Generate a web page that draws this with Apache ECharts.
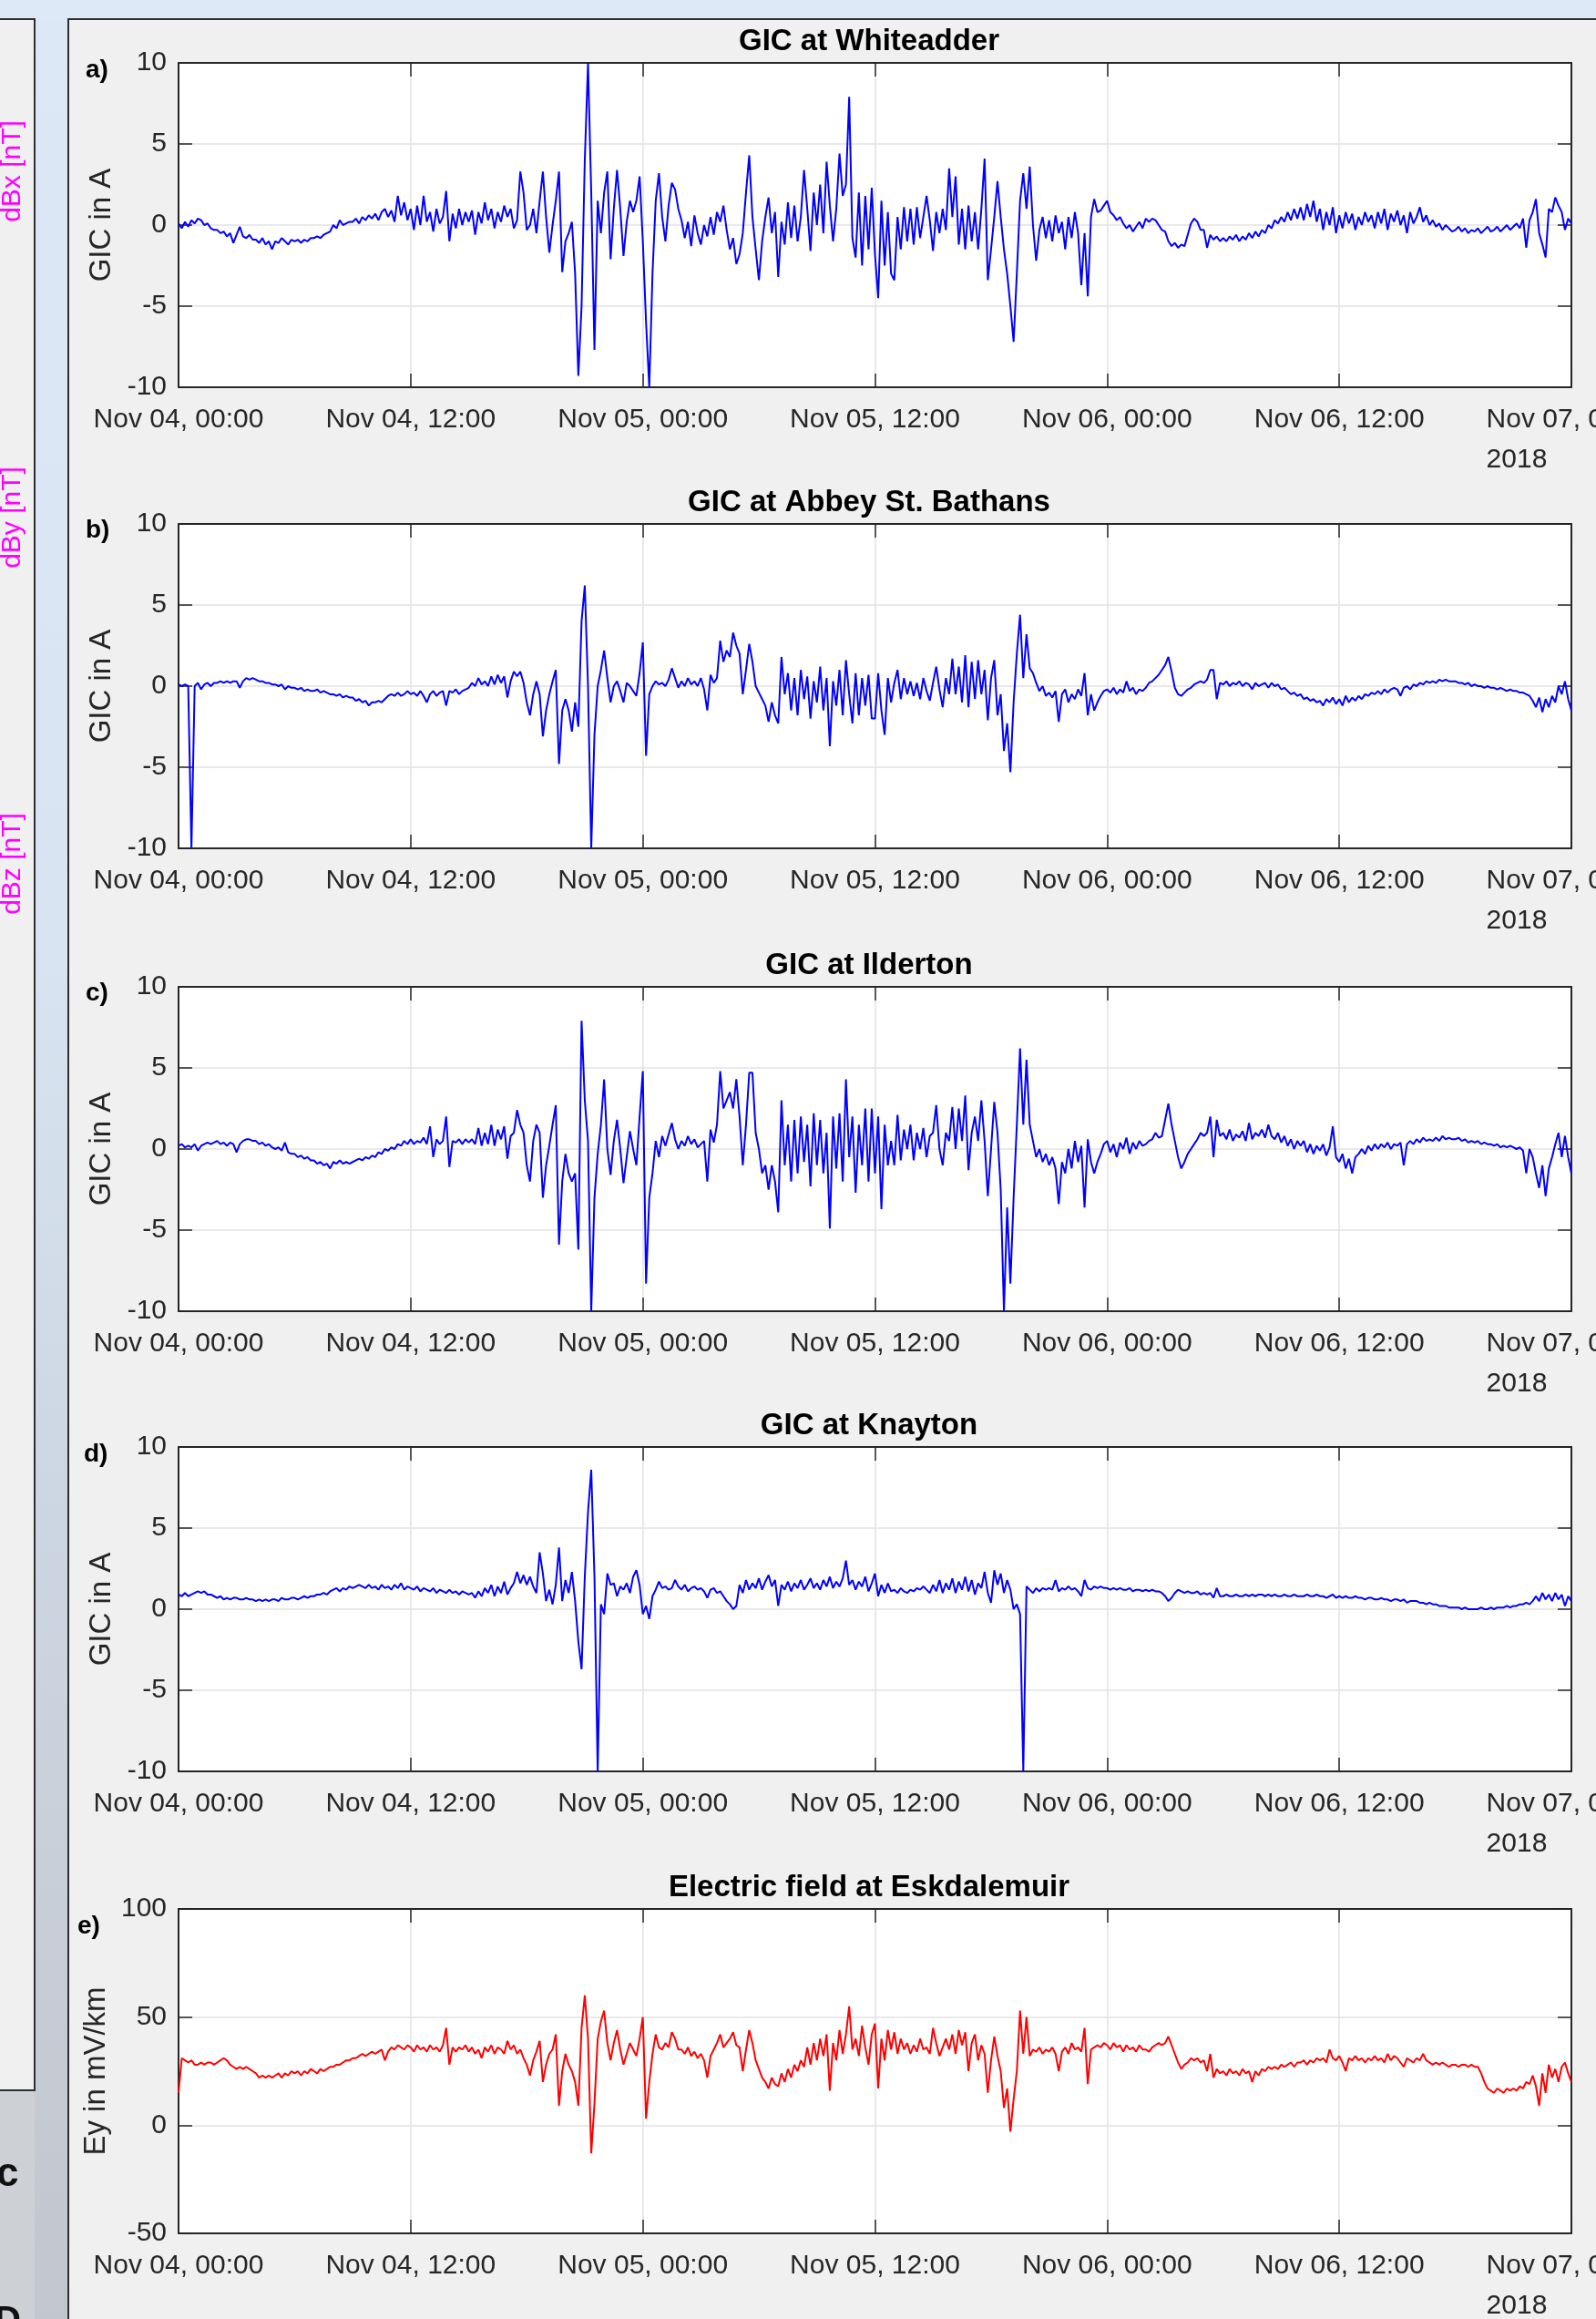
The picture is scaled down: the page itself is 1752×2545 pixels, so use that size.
<!DOCTYPE html>
<html><head><meta charset="utf-8">
<script src="https://cdn.jsdelivr.net/npm/echarts@6/dist/echarts.min.js"></script>
<style>html,body{margin:0;padding:0;background:#dde9f6;overflow:hidden}#c{width:1752px;height:2545px}</style>
</head><body><div id="c"></div>
<script>
// ---------- data ----------
const tickLabels = ['Nov 04, 00:00','Nov 04, 12:00','Nov 05, 00:00','Nov 05, 12:00','Nov 06, 00:00','Nov 06, 12:00','Nov 07, 00:00'];
const yearLabel = '2018';
const samplesPerHour = 6; // 10-minute samples, 0..72 h
const panelTitles = ['GIC at Whiteadder','GIC at Abbey St. Bathans','GIC at Ilderton','GIC at Knayton','Electric field at Eskdalemuir'];
const panelLetters = ['a)','b)','c)','d)','e)'];
const yNames = ['GIC in A','GIC in A','GIC in A','GIC in A','Ey in mV/km'];
const gicRanges = [-10, 10, 5];
const eRanges = [-50, 100, 50];

const gicWhiteadder = [
0.1,-0.2,0.2,-0.1,0.3,0.1, 0.4,0.3,0.0,0.1,-0.2,-0.3, -0.3,-0.5,-0.4,-0.7,-0.5,-1.1, -0.6,-0.1,-0.7,-0.8,-0.6,-0.9,
-0.9,-1.1,-0.8,-1.2,-1.0,-1.5, -1.0,-1.1,-0.8,-1.0,-1.2,-0.9, -1.0,-0.9,-1.1,-0.9,-1.0,-0.8, -0.8,-0.7,-0.8,-0.6,-0.5,-0.4,
0.0,-0.2,0.3,0.0,0.1,0.2, 0.2,0.4,0.1,0.5,0.3,0.6, 0.4,0.7,0.3,0.8,1.0,0.5, 0.9,0.2,1.8,0.6,1.4,0.3,
1.0,-0.3,1.2,0.0,1.8,0.2, 0.8,-0.4,1.0,0.1,0.5,2.1, -1.0,0.7,-0.2,1.0,0.0,0.8, 0.2,0.9,-0.6,0.8,0.1,1.4,
0.3,1.0,-0.2,0.8,0.2,1.2, 0.5,1.0,-0.2,0.3,3.3,2.0, -0.3,0.0,1.0,-0.5,1.5,3.3, 0.5,-1.7,0.0,1.5,3.3,-2.9,
-1.0,-0.5,0.2,-3.0,-9.3,-5.0, 4.0,10.0,2.0,-7.7,1.5,-0.5, 2.0,3.3,-2.1,1.0,3.4,1.0, -1.9,0.2,1.5,0.8,1.5,3.0,
-1.0,-6.0,-10.0,-3.0,1.5,3.2, 0.5,-1.0,1.2,2.6,2.2,1.0, 0.3,-0.8,0.2,-1.3,0.6,-0.5, -1.2,0.0,-0.7,0.5,-0.6,0.8,
0.2,1.2,-0.3,-1.5,-0.8,-2.4, -1.8,-0.5,2.0,4.3,0.5,-1.5, -3.4,-1.0,0.5,1.7,-0.5,0.8, -3.2,0.2,-1.2,1.4,-0.8,1.2,
-1.0,0.5,3.4,1.0,-1.6,2.0, 0.0,2.5,-0.5,3.9,1.2,-1.0, 1.0,4.4,1.8,2.5,7.9,-0.8, -2.0,2.0,-2.5,1.8,-1.5,2.3,
-1.8,-4.5,1.5,-2.5,0.8,-3.0, -3.4,0.5,-1.5,1.1,-1.0,1.0, -1.2,1.1,-0.8,0.5,1.8,0.3, -1.6,0.8,-0.5,1.0,-0.3,3.5,
0.5,3.0,-1.2,1.0,-1.5,1.2, -1.0,0.8,-1.5,1.0,4.1,-3.4, -1.5,0.5,2.7,0.5,-1.5,-3.0, -5.0,-7.2,-3.0,1.5,3.2,1.0,
3.6,0.0,-2.2,-0.3,0.5,-0.8, 0.3,-1.0,0.6,-0.5,0.2,-1.5, 0.5,-0.8,0.8,-0.5,-3.7,-0.5, -4.4,0.5,1.6,0.8,0.9,1.2,
1.5,0.8,0.6,0.3,0.5,0.1, -0.2,0.0,-0.4,-0.1,0.2,-0.2, 0.4,0.2,0.4,0.3,0.0,-0.3, -0.4,-1.0,-1.3,-1.1,-1.4,-1.2,
-1.3,-0.6,0.1,0.4,0.2,-0.3, -0.3,-1.4,-0.6,-0.9,-0.7,-1.0, -0.8,-1.0,-0.7,-0.9,-0.6,-1.0, -0.7,-0.9,-0.5,-0.8,-0.4,-0.7,
-0.3,-0.5,0.0,-0.2,0.3,0.1, 0.5,0.2,0.8,0.3,1.0,0.4, 1.1,0.3,1.3,0.5,1.5,0.2, 1.0,-0.3,0.8,0.0,1.1,-0.5,
0.6,-0.2,0.8,0.1,0.7,-0.3, 0.5,0.0,0.8,0.2,0.6,-0.2, 0.8,0.1,1.0,-0.3,0.7,0.2, 0.9,0.0,0.6,-0.5,0.8,0.1,
0.5,1.1,0.2,0.6,0.0,0.3, -0.1,0.1,-0.3,0.0,-0.2,-0.4, -0.3,-0.1,-0.4,-0.2,-0.5,-0.3, -0.4,-0.2,-0.5,-0.3,-0.1,-0.4,
-0.3,-0.1,-0.4,-0.2,0.0,-0.3, -0.1,0.1,-0.2,0.4,-1.4,0.3, 0.8,1.6,-0.5,-1.2,-2.0,1.0, 0.8,1.7,1.2,0.8,-0.3,0.4,
0.1];

const gicAbbey = [
0.1,0.0,0.1,0.0,-10.0,0.0, 0.2,-0.2,0.1,0.2,0.0,0.2, 0.2,0.3,0.2,0.3,0.2,0.3, 0.3,-0.1,0.3,0.5,0.4,0.5,
0.4,0.3,0.3,0.2,0.2,0.1, 0.1,0.0,0.1,-0.2,0.0,-0.1, -0.1,-0.2,-0.1,-0.3,-0.2,-0.3, -0.3,-0.2,-0.4,-0.3,-0.4,-0.5,
-0.5,-0.6,-0.5,-0.7,-0.6,-0.7, -0.7,-0.9,-0.8,-1.0,-0.9,-1.2, -1.0,-1.0,-0.9,-1.0,-0.8,-0.6, -0.5,-0.6,-0.4,-0.6,-0.5,-0.3,
-0.5,-0.4,-0.6,-0.3,-0.6,-1.0, -0.5,-0.3,-0.6,-0.4,-0.3,-1.2, -0.3,-0.4,-0.2,-0.5,-0.3,-0.2, -0.1,0.2,0.0,0.5,0.1,0.3,
0.0,0.6,0.1,0.7,0.2,0.6, -0.7,0.3,0.9,0.6,0.9,0.2, -1.0,-1.8,-0.5,0.3,-0.5,-3.1, -1.5,-0.5,0.3,1.0,-4.8,-1.5,
-0.8,-1.5,-2.8,-1.0,-2.5,4.0, 6.2,0.0,-10.0,-3.0,0.0,1.0, 2.2,0.5,-1.0,0.0,0.3,-0.3, -1.0,0.2,0.0,-0.3,-0.6,0.8,
2.7,-4.3,-0.5,0.0,0.3,0.1, 0.2,0.0,0.4,1.1,0.5,-0.1, 0.3,0.0,0.5,0.1,0.3,0.0, 0.5,-0.2,-1.5,0.7,0.2,0.5,
2.8,1.5,2.2,1.8,3.3,2.5, 2.0,-0.5,1.0,2.6,1.5,0.0, -0.4,-0.8,-1.2,-2.2,-1.0,-1.8, -2.3,1.8,-0.5,0.8,-1.5,0.5,
-1.8,1.0,-0.8,0.6,-2.0,0.3, -1.0,1.2,-1.5,0.5,-3.7,0.3, -1.2,1.0,-1.8,1.6,-0.5,-2.3, 0.8,-1.8,0.5,-1.2,0.7,-2.0,
-2.0,0.8,-1.5,-3.0,0.5,-1.0, 0.2,1.0,-0.8,0.5,-0.5,0.3, -0.6,0.2,-0.8,0.5,-0.3,-0.9, 0.2,1.2,-0.2,-1.3,0.5,-0.5,
1.7,-0.5,1.2,-1.0,1.9,-1.3, 1.5,-0.8,1.6,-0.5,1.0,-2.1, 0.5,1.6,-1.8,-0.5,-4.0,-2.3, -5.3,-1.0,2.0,4.4,0.5,3.2,
1.1,0.8,0.2,-0.3,0.0,-0.6, -0.4,-0.7,-0.3,-2.2,-0.5,-0.2, -1.0,-0.5,-0.8,-0.2,-0.6,0.8, -1.8,-0.5,-1.5,-1.0,-0.6,-0.3,
-0.2,-0.4,-0.1,-0.5,-0.2,-0.4, 0.3,-0.3,-0.1,-0.5,-0.2,-0.3, -0.1,0.2,0.3,0.5,0.7,1.0, 1.3,1.8,0.9,-0.1,-0.5,-0.6,
-0.4,-0.2,-0.1,0.1,0.2,0.3, 0.2,0.4,1.0,1.0,-0.8,0.2, 0.1,0.3,0.0,0.2,0.1,0.3, 0.0,0.2,0.1,-0.2,0.2,0.0,
0.1,0.2,-0.1,0.2,0.0,0.1, -0.2,-0.1,-0.3,-0.5,-0.4,-0.6, -0.5,-0.8,-0.7,-0.9,-0.8,-1.0, -0.9,-1.2,-0.8,-1.0,-0.7,-1.1,
-0.8,-1.2,-0.6,-1.0,-0.7,-0.9, -0.6,-0.8,-0.5,-0.6,-0.4,-0.5, -0.3,-0.5,-0.2,-0.4,-0.2,-0.1, -0.2,-0.6,-0.1,0.0,-0.2,0.1,
0.0,0.2,0.1,0.3,0.2,0.3, 0.2,0.4,0.3,0.4,0.3,0.3, 0.3,0.2,0.2,0.1,0.2,0.0, 0.1,0.0,0.0,-0.1,0.0,-0.1,
-0.1,-0.2,-0.1,-0.2,-0.3,-0.2, -0.3,-0.3,-0.4,-0.4,-0.5,-0.6, -0.9,-1.3,-0.7,-1.6,-0.8,-1.3, -0.6,-1.0,0.0,-0.5,0.3,-0.8,
-1.5];

const gicIlderton = [
0.2,0.3,0.1,0.2,0.1,0.3, -0.1,0.2,0.3,0.4,0.3,0.4, 0.5,0.3,0.4,0.2,0.4,0.3, -0.2,0.3,0.5,0.6,0.6,0.5,
0.5,0.3,0.4,0.2,0.3,0.1, 0.0,0.1,-0.1,0.4,-0.2,-0.3, -0.3,-0.5,-0.4,-0.6,-0.5,-0.7, -0.7,-0.9,-0.8,-1.0,-0.9,-1.2,
-0.8,-0.9,-0.7,-0.9,-0.8,-0.9, -0.8,-0.7,-0.6,-0.7,-0.5,-0.6, -0.4,-0.5,-0.2,-0.3,0.0,-0.1, 0.1,0.0,0.3,0.2,0.5,0.3,
0.6,0.3,0.5,0.4,0.7,0.3, 1.4,-0.5,0.6,0.3,0.5,2.0, -1.1,0.5,0.4,0.6,0.3,0.6, 0.4,0.6,0.3,1.3,0.2,1.0,
0.3,1.5,0.2,1.2,0.6,1.4, -0.6,0.8,1.0,2.4,1.5,1.0, -1.0,-2.0,0.5,1.5,1.0,-3.0, -1.0,0.2,1.5,2.7,-5.9,-2.0,
-0.3,-1.5,-2.0,-1.5,-6.2,7.9, 3.0,0.5,-10.0,-3.0,-0.3,1.5, 4.3,0.0,-1.6,0.5,1.8,0.0, -2.1,-0.5,1.1,0.0,-1.0,2.0,
4.8,-8.3,-3.0,-1.5,0.5,-0.5, 0.8,0.2,0.9,1.6,0.6,0.0, 0.5,0.2,0.8,0.3,0.6,0.1, 0.3,0.5,-2.0,1.2,0.4,1.5,
4.8,2.5,3.0,3.5,2.5,4.3, 2.0,-1.0,1.5,4.7,4.7,1.0, 0.0,-1.5,-1.0,-2.5,-1.0,-2.0, -3.9,3.0,-1.0,1.5,-2.0,1.8,
-1.5,2.0,-0.8,1.5,-2.3,2.2, -1.0,1.8,-1.5,1.0,-4.9,2.0, -1.2,2.2,-2.0,4.3,-0.5,2.0, -2.7,1.5,-1.0,2.5,-2.0,2.5,
-1.5,2.0,-3.7,1.5,-1.0,0.5, -1.0,2.1,-0.7,1.2,0.0,1.5, -0.7,1.0,0.0,1.3,-0.5,0.8, 1.0,2.7,0.0,-1.0,1.0,0.5,
2.6,0.0,2.5,0.5,3.3,-1.3, 1.0,2.0,0.5,3.0,0.5,-2.9, 0.0,2.9,1.0,-2.5,-10.0,-3.6, -8.3,-3.0,1.5,6.2,1.5,5.5,
1.5,0.5,-0.5,0.0,-0.8,-0.3, -1.0,-0.5,-1.2,-3.4,-0.8,-1.5, 0.0,-1.2,0.5,-0.8,0.2,-3.6, 0.6,-0.8,-1.5,-0.8,-0.3,0.3,
0.5,-0.2,0.3,-0.5,0.4,0.0, 0.7,-0.3,0.4,0.0,0.5,0.2, 0.3,0.5,0.6,1.0,0.7,0.8, 1.8,2.8,1.5,0.5,-0.5,-1.2,
-0.8,-0.3,0.0,0.3,0.6,1.0, 0.8,1.0,2.0,-0.5,1.8,0.8, 1.0,0.6,1.2,0.5,0.9,0.7, 1.1,0.5,1.6,0.6,1.0,0.8,
1.2,0.7,1.5,0.8,0.6,1.0, 0.4,0.8,0.2,0.6,0.0,0.5, 0.2,0.5,-0.2,0.3,-0.3,0.2, -0.1,0.3,-0.4,0.1,1.4,-0.5,
-0.8,-0.3,-1.2,-0.6,-1.5,-0.5, -0.3,0.0,-0.3,0.2,-0.1,0.3, 0.0,0.3,0.1,0.4,0.0,0.3, 0.2,0.4,-1.0,0.3,0.5,0.3,
0.6,0.4,0.7,0.5,0.6,0.5, 0.7,0.5,0.8,0.6,0.7,0.6, 0.6,0.7,0.5,0.6,0.4,0.5, 0.4,0.5,0.3,0.4,0.3,0.3,
0.2,0.3,0.1,0.2,0.1,0.2, 0.1,0.0,0.1,-0.1,-1.5,0.0, -0.5,-1.5,-2.4,-1.0,-2.9,-1.2, -0.5,0.3,1.0,-0.5,0.8,-0.5,
-1.5];

const gicKnayton = [
0.9,0.8,1.0,0.8,0.9,1.0, 1.1,1.0,1.1,0.9,0.9,0.8, 0.7,0.8,0.6,0.7,0.6,0.7, 0.7,0.6,0.6,0.7,0.6,0.6,
0.5,0.6,0.5,0.6,0.5,0.6, 0.6,0.5,0.7,0.6,0.6,0.7, 0.7,0.6,0.7,0.8,0.7,0.8, 0.8,0.9,0.9,1.0,0.9,1.1,
1.2,1.3,1.1,1.3,1.2,1.4, 1.3,1.4,1.5,1.4,1.3,1.5, 1.3,1.4,1.2,1.5,1.3,1.4, 1.2,1.5,1.3,1.6,1.2,1.4,
1.3,1.2,1.4,1.1,1.3,1.2, 1.1,1.3,1.0,1.2,1.1,1.0, 1.2,1.0,1.1,0.9,1.1,1.0, 0.9,1.0,0.7,1.1,0.8,1.3,
1.0,1.5,0.8,1.4,1.0,1.7, 0.9,1.3,1.6,2.3,1.6,2.1, 1.5,2.0,1.4,1.0,3.5,2.2, 0.5,1.2,0.3,1.5,3.8,0.5,
1.8,1.0,2.3,0.5,-2.0,-3.7, 2.0,6.0,8.6,2.0,-10.0,0.3, -0.3,2.2,1.5,1.6,0.8,1.4, 1.2,1.6,1.0,2.0,2.4,1.5,
-0.3,0.2,-0.6,0.8,1.2,1.7, 1.3,1.4,1.2,1.3,1.8,1.4, 1.2,1.5,1.1,1.3,1.4,1.2, 1.3,1.1,0.7,1.2,1.3,1.0,
1.1,0.8,0.5,0.3,0.0,0.2, 1.5,1.0,1.8,1.2,1.6,1.3, 1.9,1.2,1.7,2.1,1.4,1.8, 0.2,1.5,1.2,1.7,1.1,1.6,
1.3,1.8,1.2,1.5,1.9,1.3, 1.6,1.2,1.8,1.4,2.0,1.3, 1.7,1.4,1.9,3.0,1.5,1.8, 1.2,1.7,1.4,2.0,1.1,1.6,
2.2,0.8,1.5,1.0,1.6,1.1, 1.2,1.0,1.3,1.1,1.0,1.2, 1.1,1.3,1.2,1.4,1.2,1.0, 1.5,1.1,1.8,1.0,1.6,1.2,
1.9,1.0,1.7,1.2,2.0,1.1, 1.8,0.9,1.6,1.3,2.3,1.0, 0.4,2.4,1.5,2.2,1.0,1.8, 1.2,0.0,0.3,-0.3,-10.0,1.4,
1.2,1.0,1.3,1.1,1.3,1.2, 1.3,1.2,1.8,1.1,1.3,1.2, 1.4,1.2,1.3,1.1,0.8,1.8, 1.3,1.2,1.4,1.3,1.4,1.3,
1.3,1.2,1.3,1.2,1.3,1.2, 1.2,1.3,1.1,1.2,1.2,1.1, 1.2,1.1,1.2,1.1,1.1,1.0, 0.8,0.5,0.7,1.0,1.2,1.1,
1.0,1.1,1.0,1.0,1.1,0.9, 1.0,0.9,1.0,0.7,1.3,0.8, 0.8,0.9,0.8,0.8,0.9,0.8, 0.8,0.9,0.8,0.9,0.8,0.9,
0.9,0.8,0.9,0.8,0.9,0.8, 0.8,0.9,0.8,0.8,0.9,0.8, 0.8,0.8,0.9,0.8,0.8,0.9, 0.8,0.8,0.7,0.8,0.9,0.7,
0.8,0.7,0.8,0.7,0.7,0.8, 0.7,0.7,0.6,0.7,0.7,0.6, 0.6,0.7,0.6,0.6,0.5,0.6, 0.6,0.5,0.6,0.4,0.5,0.5,
0.5,0.4,0.4,0.3,0.4,0.3, 0.3,0.2,0.2,0.2,0.1,0.1, 0.1,0.1,0.0,0.1,0.0,0.0, 0.0,0.0,0.1,0.0,0.0,0.1,
0.0,0.1,0.1,0.1,0.2,0.1, 0.2,0.2,0.3,0.3,0.4,0.3, 0.5,0.8,0.5,1.0,0.6,0.9, 0.5,1.0,0.6,0.9,0.2,0.8,
0.5];

const eyEskdalemuir = [
15,31,30,29,30,28, 28,29,28,29,29,28, 29,30,31,30,28,27, 26,27,26,27,26,25,
24,22,23,22,23,22, 23,24,22,24,23,25, 24,25,23,25,24,26, 25,24,26,25,26,27,
27,28,28,29,30,30, 31,31,32,33,32,33, 34,33,34,35,30,34, 36,35,37,36,35,37,
36,34,37,35,36,34, 37,35,36,34,37,45, 28,36,34,36,35,37, 34,36,33,35,31,36,
34,37,33,36,35,33, 39,35,37,33,35,31, 28,23,30,34,39,20, 28,33,35,42,9,25,
33,28,25,20,9,45, 60,40,-13,10,40,48, 53,38,30,38,44,35, 28,33,38,35,32,40,
50,3,20,33,42,36, 35,38,36,43,40,35, 35,33,36,32,34,31, 33,30,22,32,35,38,
42,36,38,40,43,37, 36,25,35,44,38,30, 26,22,20,17,22,19, 18,24,20,26,22,28,
25,30,27,36,28,38, 30,40,32,42,16,38, 30,44,33,42,55,35, 40,32,46,36,28,42,
47,17,40,30,44,35, 43,33,40,35,38,33, 37,34,40,35,36,33, 45,38,32,36,40,35,
42,33,44,37,43,25, 38,42,30,37,33,15, 30,41,32,25,8,17, -3,12,25,53,33,50,
32,35,34,36,33,35, 34,36,33,25,34,36, 33,38,35,36,34,45, 19,35,36,37,36,38,
37,35,38,36,37,34, 37,35,36,34,37,35, 35,34,36,37,38,37, 38,41,37,33,29,26,
28,29,31,30,31,29, 30,25,33,22,26,24, 25,23,26,24,25,23, 26,24,25,20,25,23,
26,25,27,26,27,26, 28,27,28,29,27,29, 29,30,28,30,29,31, 30,31,29,35,31,30,
32,29,25,31,30,32, 30,31,29,31,30,32, 30,31,29,33,30,32, 31,29,27,31,30,29,
31,30,33,30,29,28, 29,28,29,28,27,28, 28,27,28,28,27,28, 27,27,24,20,17,16,
15,17,16,15,17,16, 17,16,18,17,20,19, 23,18,9,24,15,28, 22,26,20,27,29,24,
20];

const seriesValues = [gicWhiteadder, gicAbbey, gicIlderton, gicKnayton, eyEskdalemuir];
const seriesColors = ['#0000ff','#0000ff','#0000ff','#0000ff','#ff0000'];

// ---------- layout ----------
const gridTops = [69, 575, 1083, 1588, 2095];
const gridLeft = 196, gridWidth = 1529, gridHeight = 356;
const titleCenterX = 954;
const letterPos = [[94, 77], [94, 582], [94, 1090], [92, 1596], [85, 2114]];
const AX = '#262626', GRID = '#e2e2e2', FONT = 'Liberation Sans';

const chart = echarts.init(document.getElementById('c'), null, {renderer: 'canvas'});

const grids = [], xAxes = [], yAxes = [], series = [], graphics = [];

// background decoration (screenshot frame)
graphics.push(
  {type:'rect', z:-20, shape:{x:38, y:21, width:37, height:2524},
   style:{fill:new echarts.graphic.LinearGradient(0,0,0,1,[
     {offset:0,color:'#dce8f5'},{offset:0.4,color:'#d8e4f1'},{offset:0.65,color:'#ccd6e2'},{offset:1,color:'#c2c6cd'}])}},
  {type:'rect', z:-20, shape:{x:0, y:2295, width:38, height:250}, style:{fill:'#cdd0d5'}},
  {type:'rect', z:-10, shape:{x:75, y:21, width:1700, height:2540}, style:{fill:'#f0f0f0', stroke:'#2e2e2e', lineWidth:2}},
  {type:'rect', z:-10, shape:{x:-5, y:21, width:43, height:2273}, style:{fill:'#f0f0f0', stroke:'#2e2e2e', lineWidth:2}}
);
[['dBx [nT]',188],['dBy [nT]',568],['dBz [nT]',948]].forEach(([t,y]) => {
  graphics.push({type:'text', z:5, x:14, y:y, rotation:Math.PI/2,
    style:{text:t, fill:'#ff00ff', fontSize:30, fontFamily:FONT, align:'center', verticalAlign:'middle'}});
});
graphics.push({type:'text', z:5, x:-4, y:2387,
  style:{text:'c', fill:'#111', fontSize:44, fontWeight:'bold', fontFamily:FONT, align:'left', verticalAlign:'middle'}});
graphics.push({type:'text', z:5, x:-6, y:2548,
  style:{text:'D', fill:'#111', fontSize:40, fontWeight:'bold', fontFamily:FONT, align:'left', verticalAlign:'middle'}});

function xLabelFormatter(v) {
  const i = Math.round(v / 12);
  const t = tickLabels[i];
  return i === tickLabels.length - 1 ? '{a|' + t + '}\n{b|' + yearLabel + '}' : '{a|' + t + '}';
}

for (let i = 0; i < 5; i++) {
  const top = gridTops[i];
  const isE = i === 4;
  const [ymin, ymax, yint] = isE ? eRanges : gicRanges;
  grids.push({left:gridLeft, top:top, width:gridWidth, height:gridHeight, show:true,
    backgroundColor:'#ffffff', borderWidth:0, containLabel:false, outerBoundsMode:'none'});
  const axLine = {show:true, onZero:false, lineStyle:{color:AX, width:2}};
  const axTick = {show:true, inside:true, length:15, lineStyle:{color:AX, width:1.5}};
  xAxes.push({type:'value', gridIndex:i, position:'bottom', min:0, max:72, interval:12,
    axisLine:axLine, axisTick:axTick,
    splitLine:{show:true, lineStyle:{color:GRID, width:1.5}},
    axisLabel:{show:true, margin:14, formatter:xLabelFormatter, showMinLabel:true, showMaxLabel:true, hideOverlap:false,
      rich:{a:{fontSize:30, lineHeight:44, color:AX, fontFamily:FONT},
            b:{fontSize:30, lineHeight:44, color:AX, fontFamily:FONT, align:'left'}}}});
  xAxes.push({type:'value', gridIndex:i, position:'top', min:0, max:72, interval:12,
    axisLine:axLine, axisTick:axTick, splitLine:{show:false}, axisLabel:{show:false}});
  yAxes.push({type:'value', gridIndex:i, position:'left', min:ymin, max:ymax, interval:yint,
    axisLine:axLine, axisTick:axTick,
    splitLine:{show:true, lineStyle:{color:GRID, width:1.5}},
    axisLabel:{show:true, margin:13, fontSize:30, color:AX, fontFamily:FONT, showMinLabel:true, showMaxLabel:true},
    name:yNames[i], nameLocation:'middle', nameGap:68,
    nameTextStyle:{fontSize:33, color:AX, fontFamily:FONT}});
  yAxes.push({type:'value', gridIndex:i, position:'right', min:ymin, max:ymax, interval:yint,
    axisLine:axLine, axisTick:axTick, splitLine:{show:false}, axisLabel:{show:false}});
  series.push({type:'line', name:panelTitles[i], xAxisIndex:2*i, yAxisIndex:2*i,
    data:seriesValues[i].map((v, k) => [k / samplesPerHour, v]),
    showSymbol:false, symbol:'none', sampling:null, clip:true, z:5,
    lineStyle:{color:seriesColors[i], width:2}, itemStyle:{color:seriesColors[i]}});
  graphics.push({type:'text', z:5, x:titleCenterX, y:top - 23,
    style:{text:panelTitles[i], fill:'#000', fontSize:33, fontWeight:'bold', fontFamily:FONT,
      align:'center', verticalAlign:'middle'}});
  graphics.push({type:'text', z:5, x:letterPos[i][0], y:letterPos[i][1],
    style:{text:panelLetters[i], fill:'#000', fontSize:28, fontWeight:'bold', fontFamily:FONT,
      align:'left', verticalAlign:'middle'}});
}

chart.setOption({
  backgroundColor:'#dde9f6',
  animation:false,
  grid:grids, xAxis:xAxes, yAxis:yAxes, series:series,
  graphic:{elements:graphics}
});
</script></body></html>
